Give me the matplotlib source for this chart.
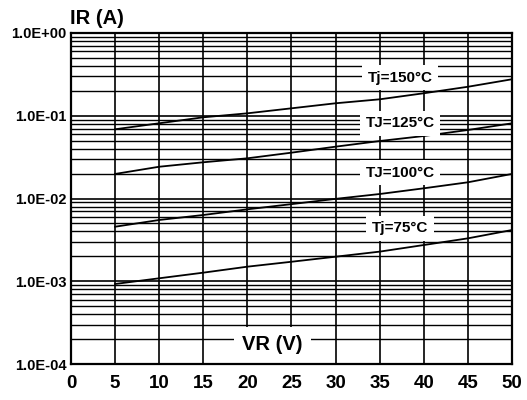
import numpy as np
import matplotlib
matplotlib.use("Agg")
import matplotlib.pyplot as plt
from matplotlib.ticker import LogLocator, NullFormatter, FixedLocator

plt.rcParams["font.family"] = ["Liberation Sans", "DejaVu Sans"]
plt.rcParams["font.weight"] = "bold"

VR = [5, 10, 15, 20, 25, 30, 35, 40, 45, 50]
IR_150 = [0.0686, 0.0811, 0.0958, 0.107, 0.123, 0.1415, 0.158, 0.187, 0.224, 0.276]
IR_125 = [0.0198, 0.0242, 0.0274, 0.0306, 0.0358, 0.0423, 0.0495, 0.0569, 0.0673, 0.081]
IR_100 = [0.00456, 0.0055, 0.00632, 0.0074, 0.00855, 0.0099, 0.01133, 0.01328, 0.0157, 0.0198]
IR_75 = [0.000927, 0.001086, 0.00127, 0.0015, 0.00172, 0.00198, 0.00228, 0.00274, 0.0033, 0.00416]

CURVES = [
    (IR_150, "Tj=150°C", 0.286),
    (IR_125, "TJ=125°C", 0.0817),
    (IR_100, "TJ=100°C", 0.0204),
    (IR_75, "Tj=75°C", 0.00437),
]
LABEL_X = 37.3

XTICKS = [0, 5, 10, 15, 20, 25, 30, 35, 40, 45, 50]
YTICKS = [1e0, 1e-1, 1e-2, 1e-3, 1e-4]
YTICKLABELS = ["1.0E+00", "1.0E-01", "1.0E-02", "1.0E-03", "1.0E-04"]

fig = plt.figure(figsize=(5.27, 4.0), dpi=100)
ax = fig.add_axes([0.1347, 0.09, 0.8368, 0.8275])
ax.set_yscale("log")
ax.set_xlim(0, 50)
ax.set_ylim(1e-4, 1e0)

ax.xaxis.set_major_locator(FixedLocator(XTICKS))
ax.set_xticklabels([str(t) for t in XTICKS], fontsize=13.5, fontweight="bold")
ax.yaxis.set_major_locator(FixedLocator(YTICKS))
ax.set_yticklabels(YTICKLABELS, fontsize=10.5, fontweight="bold")
ax.yaxis.set_minor_locator(LogLocator(base=10, subs=np.arange(2, 10), numticks=20))
ax.yaxis.set_minor_formatter(NullFormatter())
ax.tick_params(axis="both", which="both", length=0)
ax.tick_params(axis="x", pad=8)
ax.tick_params(axis="y", pad=3)

ax.grid(True, which="major", axis="both", color="black", lw=1.2, zorder=1)
ax.grid(True, which="minor", axis="y", color="black", lw=1.0, zorder=1)
for s in ax.spines.values():
    s.set_linewidth(1.6)
    s.set_zorder(5)

for vals, label, ly in CURVES:
    ax.plot(VR, vals, color="black", lw=1.3, zorder=3)
    ax.text(LABEL_X, ly, label, ha="center", va="center", fontsize=11,
            fontweight="bold", zorder=4,
            bbox=dict(facecolor="white", edgecolor="none", pad=4))

ax.text(22.8, 1.7e-4, "VR (V)", ha="center", va="center", fontsize=14.5,
        fontweight="bold", zorder=4,
        bbox=dict(facecolor="white", edgecolor="none", pad=6))
fig.text(0.133, 0.953, "IR (A)", ha="left", va="center", fontsize=14.5,
         fontweight="bold")

fig.savefig("out.png", dpi=100)
